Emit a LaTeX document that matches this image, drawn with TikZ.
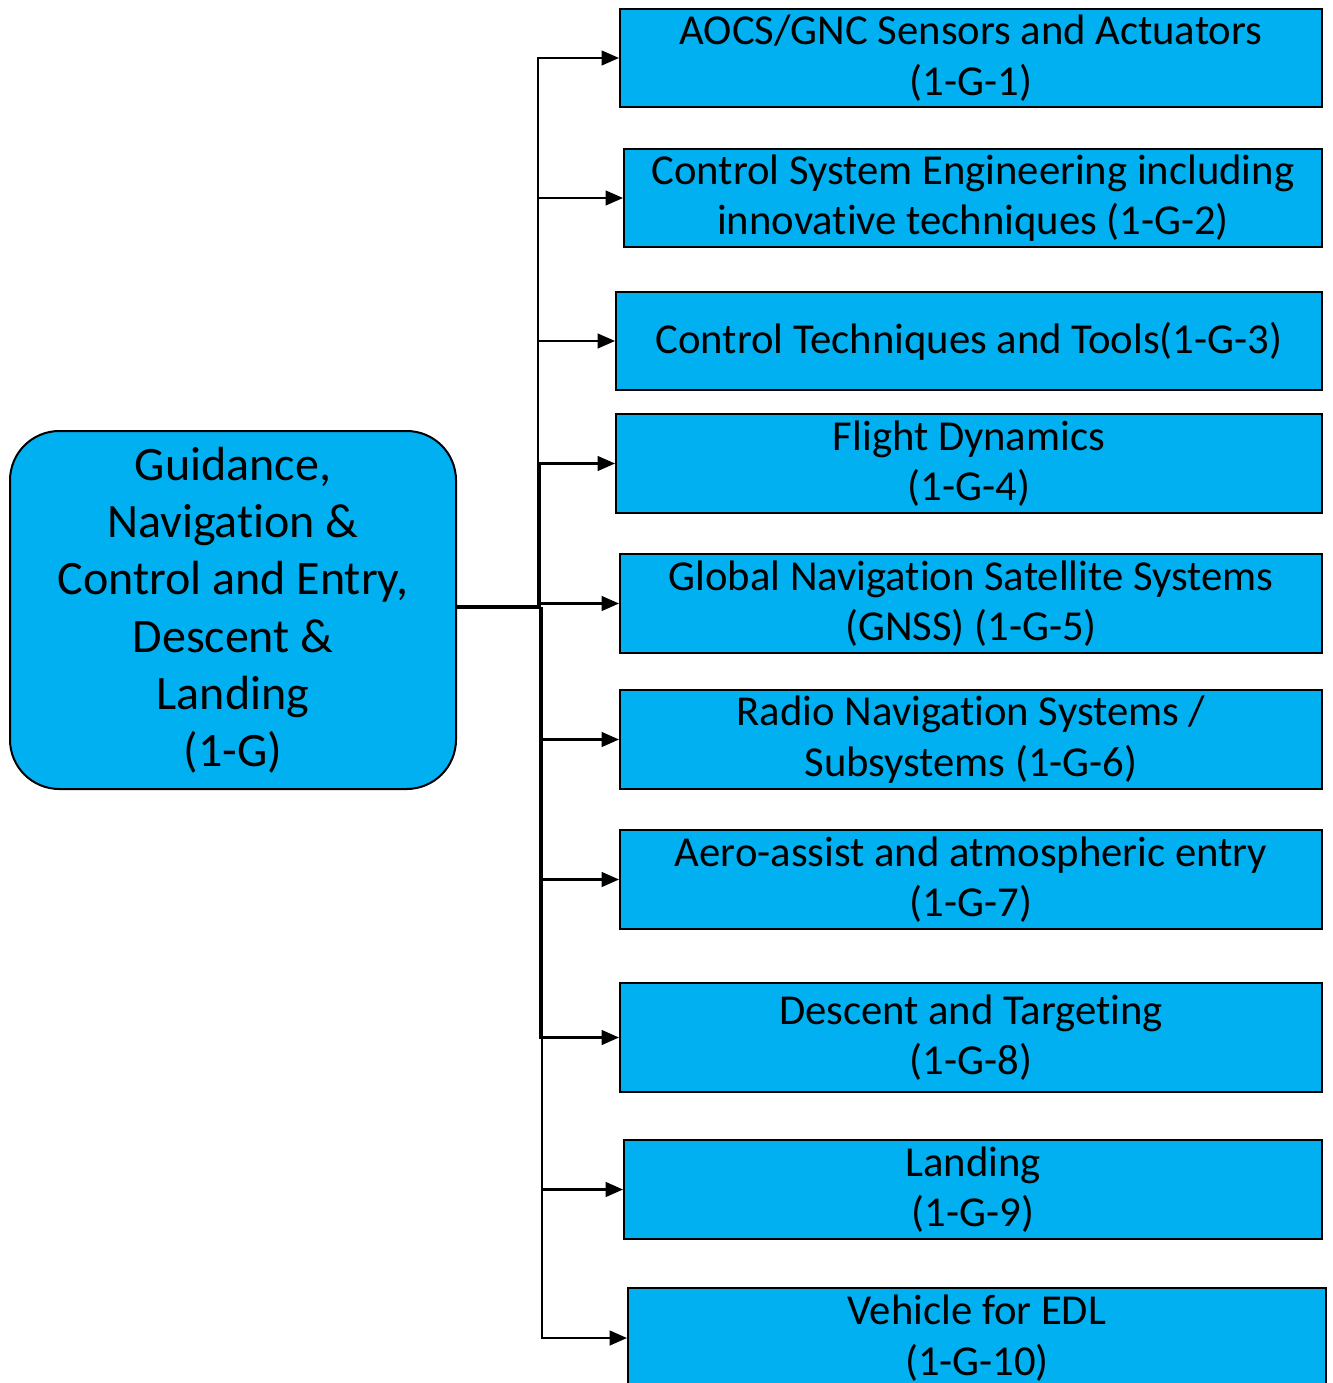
\documentclass[tikz,border=0pt]{standalone}
\usepackage{fontspec}
\setmainfont{Carlito}[Ligatures=NoCommon]
\usetikzlibrary{arrows.meta}
\definecolor{boxblue}{HTML}{00B0F0}
\begin{document}
\begin{tikzpicture}[x=0.75pt,y=-0.75pt,
  topic/.style={draw=black, line width=1.5pt, fill=boxblue, align=center,
    inner sep=0pt, font=\fontsize{32}{38}\selectfont},
  root/.style={draw=black, line width=1.5pt, fill=boxblue, align=center,
    inner sep=0pt, rounded corners=37pt, font=\fontsize{36}{43}\selectfont},
  link/.style={line width=1.6pt, -{Triangle[length=13pt,width=11pt]}}]
\useasboundingbox (0,0) rectangle (1333,1383);
\clip (0,0) rectangle (1333,1383);
\fill[white] (0,0) rectangle (1333,1383);

\node[root, minimum width=334.5pt, minimum height=268.5pt] (g) at (233,610)
  {Guidance,\\Navigation \&\\Control and Entry,\\Descent \&\\Landing\\(1-G)};

\node[topic, minimum width=526.5pt, minimum height=73.5pt] (g1) at (971,58)
  {AOCS/GNC Sensors and Actuators\\(1-G-1)};
\node[topic, minimum width=523.5pt, minimum height=73.5pt] (g2) at (973,198)
  {Control System Engineering including\\innovative techniques (1-G-2)};
\node[topic, minimum width=529.5pt, minimum height=73.5pt] (g3) at (969,341)
  {Control Techniques and Tools(1-G-3)};
\node[topic, minimum width=529.5pt, minimum height=74.25pt] (g4) at (969,463.5)
  {Flight Dynamics\\(1-G-4)};
\node[topic, minimum width=526.5pt, minimum height=74.25pt] (g5) at (971,603.5)
  {Global Navigation Satellite Systems\\(GNSS) (1-G-5)};
\node[topic, minimum width=526.5pt, minimum height=74.25pt] (g6) at (971,739.5)
  {Radio Navigation Systems /\\Subsystems (1-G-6)};
\node[topic, minimum width=526.5pt, minimum height=74.25pt] (g7) at (971,879.5)
  {Aero-assist and atmospheric entry\\(1-G-7)};
\node[topic, minimum width=526.5pt, minimum height=81.75pt] (g8) at (971,1037.5)
  {Descent and Targeting\\(1-G-8)};
\node[topic, minimum width=523.5pt, minimum height=74.25pt] (g9) at (973,1189.5)
  {Landing\\(1-G-9)};
\node[topic, minimum width=523.5pt, minimum height=75pt] (g10) at (977,1338)
  {Vehicle for EDL\\(1-G-10)};

% elbow connectors from the root to each topic
\coordinate (ta) at (538,606);
\coordinate (tb) at (540,608);
\coordinate (tc) at (542,608);
\draw[link] (g.east |- ta) -- (ta) |- (g1.west);
\draw[link] (g.east |- ta) -- (ta) |- (g2.west);
\draw[link] (g.east |- ta) -- (ta) |- (g3.west);
\draw[link] (g.east |- tb) -- (tb) |- (g4.west);
\draw[link] (g.east |- tb) -- (tb) |- (g5.west);
\draw[link] (g.east |- tb) -- (tb) |- (g6.west);
\draw[link] (g.east |- tb) -- (tb) |- (g7.west);
\draw[link] (g.east |- tb) -- (tb) |- (g8.west);
\draw[link] (g.east |- tc) -- (tc) |- (g9.west);
\draw[link] (g.east |- tc) -- (tc) |- (g10.west);
\end{tikzpicture}
\end{document}
